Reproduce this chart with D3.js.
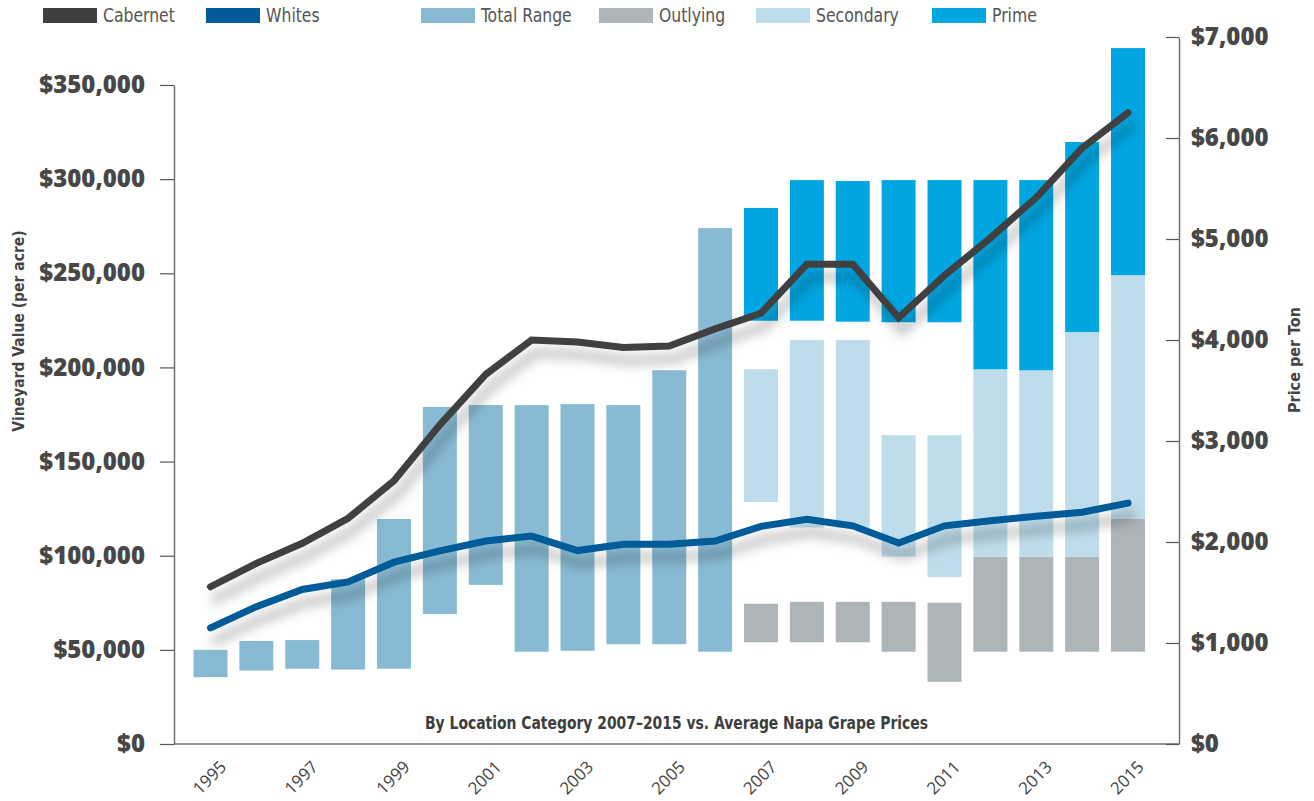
<!DOCTYPE html>
<html>
<head>
<meta charset="utf-8">
<script src="https://cdn.jsdelivr.net/npm/d3@7"></script>
<style>
body { margin: 0; background: #fff; }
.narrow { font-family: "Liberation Sans Narrow", "DejaVu Sans Condensed", "Roboto", sans-serif; font-stretch: condensed; }
.tick text { font-family: "Open Sans", sans-serif; }
</style>
</head>
<body>
<svg id="chart" width="1314" height="801"></svg>
<script>
const years = [1995, 1996, 1997, 1998, 1999, 2000, 2001, 2002, 2003, 2004, 2005, 2006, 2007, 2008, 2009, 2010, 2011, 2012, 2013, 2014, 2015];
const labelYears = [1995, 1997, 1999, 2001, 2003, 2005, 2007, 2009, 2011, 2013, 2015];

// price per ton (right axis)
const cabernet = [1557, 1789, 1987, 2235, 2607, 3160, 3660, 4000, 3980, 3925, 3940, 4110, 4265, 4750, 4750, 4220, 4640, 5010, 5410, 5900, 6250];
const whites = [1150, 1360, 1530, 1605, 1800, 1912, 2010, 2058, 1915, 1978, 1978, 2010, 2155, 2225, 2160, 1990, 2160, 2210, 2255, 2295, 2385];

// vineyard value per acre (left axis), low / high of each range
const totalYears = [1995, 1996, 1997, 1998, 1999, 2000, 2001, 2002, 2003, 2004, 2005, 2006];
const totalLow = [35500, 39000, 40000, 39500, 40000, 69000, 84500, 49000, 49500, 53000, 53000, 49000];
const totalHigh = [50000, 54700, 55200, 87500, 119500, 179000, 180000, 180000, 180500, 180000, 198500, 274000];

const catYears = [2007, 2008, 2009, 2010, 2011, 2012, 2013, 2014, 2015];
const outlyingLow = [54000, 54000, 54000, 49000, 33000, 49000, 49000, 49000, 49000];
const outlyingHigh = [74500, 75500, 75500, 75500, 75000, 99500, 99500, 99500, 119500];
const secondaryLow = [128500, 115000, 115000, 99500, 88700, 99500, 99500, 99500, 119500];
const secondaryHigh = [199000, 214500, 214500, 164000, 164000, 199000, 198500, 218800, 249000];
const primeLow = [224800, 224800, 224300, 224000, 224000, 199000, 198500, 218800, 249000];
const primeHigh = [284700, 299500, 299000, 299500, 299500, 299500, 299500, 319700, 369600];

const legendNames = ["Cabernet", "Whites", "Total Range", "Outlying", "Secondary", "Prime"];
const colors = {
    "Cabernet": "#3f3f41",
    "Whites": "#005b99",
    "Total Range": "#88bbd3",
    "Outlying": "#adb5b8",
    "Secondary": "#bedcea",
    "Prime": "#00a6e1",
};
const legendX = [43, 206, 421, 599, 756, 932];

const svg = d3.select('#chart');

const x = d3.scaleBand().domain(years).range([193.5, 1145]).paddingInner(0.259);
const yL = d3.scaleLinear().domain([0, 350000]).range([744, 85]);
const yR = d3.scaleLinear().domain([0, 7000]).range([744, 37]);

const filter = svg.append('defs').append('filter')
    .attr('id', 'shadow')
    .attr('filterUnits', 'userSpaceOnUse')
    .attr('x', 0).attr('y', 0).attr('width', 1314).attr('height', 801);
filter.append('feDropShadow')
    .attr('dx', 4).attr('dy', 13)
    .attr('stdDeviation', 6)
    .attr('flood-color', '#000')
    .attr('flood-opacity', 0.3);

// floating range bars
function rangeBars(yrs, lo, hi, color) {
    svg.append('g')
        .selectAll('rect')
        .data(yrs.map((yr, i) => ({ yr: yr, lo: lo[i], hi: hi[i] })))
        .join('rect')
        .attr('x', d => x(d.yr))
        .attr('width', x.bandwidth())
        .attr('y', d => yL(d.hi))
        .attr('height', d => yL(d.lo) - yL(d.hi))
        .attr('fill', color);
}
rangeBars(totalYears, totalLow, totalHigh, colors["Total Range"]);
rangeBars(catYears, outlyingLow, outlyingHigh, colors["Outlying"]);
rangeBars(catYears, secondaryLow, secondaryHigh, colors["Secondary"]);
rangeBars(catYears, primeLow, primeHigh, colors["Prime"]);

// price lines
const line = d3.line()
    .x((d, i) => x(years[i]) + x.bandwidth() / 2)
    .y(d => yR(d));

[["Cabernet", cabernet], ["Whites", whites]].forEach(([name, values]) => {
    svg.append('path')
        .datum(values)
        .attr('d', line)
        .attr('fill', 'none')
        .attr('stroke', colors[name])
        .attr('stroke-width', 7)
        .attr('stroke-linecap', 'round')
        .attr('stroke-linejoin', 'miter')
        .attr('filter', 'url(#shadow)');
});

// frame
svg.append('line').attr('x1', 174).attr('x2', 1179).attr('y1', 744).attr('y2', 744)
    .attr('stroke', '#6f6f6f').attr('stroke-width', 1.5);

const money = d => '$' + d3.format(',')(d);

const left = svg.append('g')
    .attr('transform', 'translate(174,0)')
    .call(d3.axisLeft(yL).tickValues(d3.range(0, 350001, 50000)).tickFormat(money)
        .tickSize(14).tickSizeOuter(0).tickPadding(15));

const right = svg.append('g')
    .attr('transform', 'translate(1179,0)')
    .call(d3.axisRight(yR).tickValues(d3.range(0, 7001, 1000)).tickFormat(money)
        .tickSizeInner(-13).tickSizeOuter(0).tickPadding(12));

[left, right].forEach(g => {
    g.select('.domain').attr('stroke', '#6f6f6f').attr('stroke-width', 1.5);
    g.selectAll('.tick line').attr('stroke', '#555').attr('stroke-width', 1.2);
    g.selectAll('.tick text')
        .attr('fill', '#474747')
        .style('font-size', '24px')
        .style('font-weight', 800);
});

const bottom = svg.append('g')
    .attr('transform', 'translate(0,744)')
    .call(d3.axisBottom(x).tickValues(labelYears).tickSize(0).tickPadding(0));
bottom.select('.domain').remove();
bottom.selectAll('.tick text')
    .attr('y', 0).attr('dy', 0)
    .attr('text-anchor', 'end')
    .attr('transform', 'translate(17,24) rotate(-45)')
    .attr('fill', '#444')
    .style('font-size', '17px');

// titles
svg.append('text')
    .attr('class', 'narrow')
    .attr('transform', 'translate(676.5,729) scale(0.86,1)')
    .attr('text-anchor', 'middle')
    .attr('fill', '#3d3d3d')
    .style('font-size', '18px')
    .style('font-weight', 700)
    .text('By Location Category 2007–2015 vs. Average Napa Grape Prices');

svg.append('text')
    .attr('class', 'narrow')
    .attr('transform', 'translate(24,331) rotate(-90) scale(0.97,1)')
    .attr('text-anchor', 'middle')
    .attr('fill', '#444')
    .style('font-size', '16px')
    .style('font-weight', 700)
    .text('Vineyard Value (per acre)');

svg.append('text')
    .attr('class', 'narrow')
    .attr('transform', 'translate(1300,360) rotate(-90)')
    .attr('text-anchor', 'middle')
    .attr('fill', '#444')
    .style('font-size', '16px')
    .style('font-weight', 700)
    .text('Price per Ton');

// legend
const legend = svg.append('g')
    .selectAll('g')
    .data(legendNames)
    .join('g')
    .attr('transform', (d, i) => `translate(${legendX[i]},0)`);
legend.append('rect')
    .attr('x', 0).attr('y', 8)
    .attr('width', 54).attr('height', 15)
    .attr('fill', d => colors[d]);
legend.append('text')
    .attr('class', 'narrow')
    .attr('transform', 'translate(60,22) scale(0.87,1)')
    .attr('fill', '#555')
    .style('font-size', '20px')
    .text(d => d);
</script>
</body>
</html>
